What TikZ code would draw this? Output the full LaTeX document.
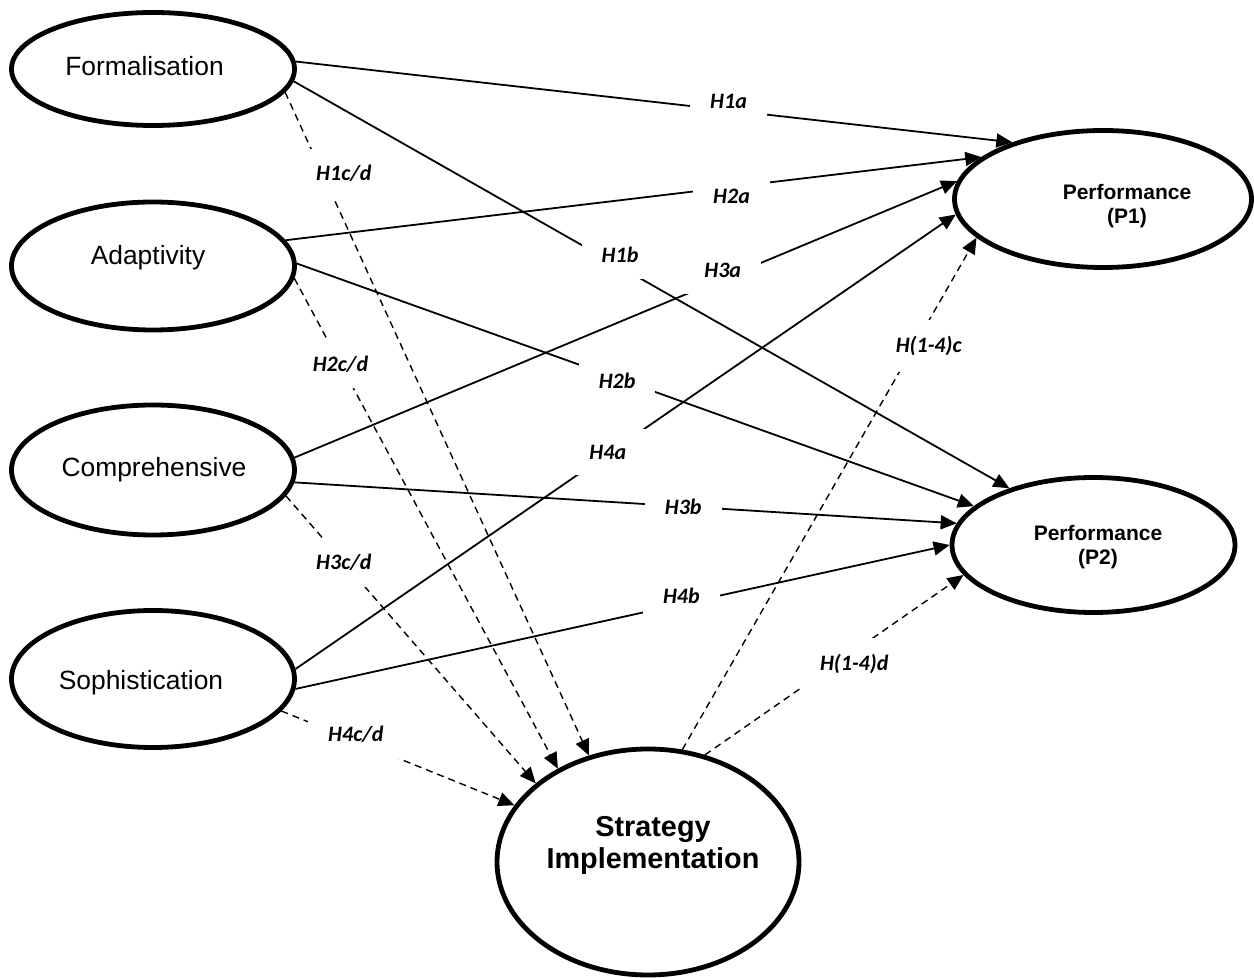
\documentclass[tikz,border=0pt]{standalone}
\usepackage{fontspec}
\setmainfont{Liberation Sans}
\newfontfamily\hypfont{Carlito}[BoldItalicFont={Carlito Bold Italic}]
\usetikzlibrary{arrows.meta,shapes.geometric}
\tikzset{
  sm diagram/.style={x=0.5pt, y=-0.5pt},
  sm construct/.style={ellipse, draw=black, fill=white, line width=2.4pt,
    inner sep=0pt, minimum width=141.5pt},
  sm factor text/.style={font=\fontsize{13.2}{15}\selectfont},
  sm outcome text/.style={align=center, font=\fontsize{10.5}{12}\selectfont\bfseries},
  sm core text/.style={align=center, font=\fontsize{14.4}{16}\selectfont\bfseries},
  sm path/.style={-{Triangle[length=8pt,width=7pt]}, draw=black, line width=0.9pt},
  sm mediated/.style={sm path, line width=0.7pt, dash pattern=on 3.5pt off 2.5pt},
  sm hyp/.style={fill=white, inner xsep=10pt, inner ysep=8pt,
    font=\hypfont\bfseries\itshape\fontsize{11}{13}\selectfont}
}
\begin{document}
\begin{tikzpicture}[sm diagram]
\path[use as bounding box, fill=white] (0,0) rectangle (1254,978);
% constructs
\node[sm construct, minimum height=56.5pt,
  label={[sm factor text, shift={(-4.25pt,1.25pt)}]center:Formalisation}] (form) at (153,69) {};
\node[sm construct, minimum height=64pt,
  label={[sm factor text, shift={(-2.5pt,4.25pt)}]center:Adaptivity}] (adapt) at (153,266) {};
\node[sm construct, minimum height=65pt,
  label={[sm factor text, shift={(0.5pt,0pt)}]center:Comprehensive}] (comp) at (153,470) {};
\node[sm construct, minimum height=68.5pt,
  label={[sm factor text, shift={(-6pt,-2pt)}]center:Sophistication}] (soph) at (153,679) {};
\node[sm construct, minimum width=148.5pt, minimum height=68.5pt,
  label={[sm outcome text, shift={(12pt,-3.75pt)}]center:Performance\\(P1)}] (perf1) at (1103,199) {};
\node[sm construct, minimum height=67.5pt,
  label={[sm outcome text, shift={(2.25pt,-1.25pt)}]center:Performance\\(P2)}] (perf2) at (1093.5,545) {};
\node[sm construct, minimum width=151pt, minimum height=113pt,
  label={[sm core text, shift={(2.5pt,8.5pt)}]center:Strategy\\Implementation}] (impl) at (648,862) {};
% direct effects
\foreach \src/\sa/\dst/\da/\p/\dx/\dy/\nm/\lab in {
  form/3/perf1/148.5/0.604/0/4.5/h1a/H1a,
  form/-5/perf2/146.6/0.449/2.5/4.5/h1b/H1b,
  adapt/11.8/perf1/161.6/0.641/0/-4.5/h2a/H2a,
  adapt/1.6/perf2/162.2/0.473/0/-1.5/h2b/H2b,
  comp/5.2/perf1/173.7/0.651/-1.5/3.5/h3a/H3a,
  comp/-5.1/perf2/171.7/0.587/0/0/h3b/H3b,
  soph/4.8/perf1/186.5/0.473/0/1/h4a/H4a,
  soph/-4/perf2/180.8/0.593/-1/4/h4b/H4b}
  \draw[sm path] (\src.\sa) -- node[sm hyp, pos=\p, xshift=\dx pt, yshift=\dy pt] (\nm) {\lab} (\dst.\da);
% effects through implementation
\foreach \src/\sa/\dst/\da/\p/\dx/\dy/\nm/\lab in {
  form/-10/impl/119.8/0.134/9/4/h1cd/{H1c/d},
  adapt/-5.7/impl/134.4/0.175/0/0/h2cd/{H2c/d},
  comp/-11.3/impl/145.7/0.232/0/0/h3cd/{H3c/d},
  soph/-14/impl/157.3/0.311/1/3/h4cd/{H4c/d},
  impl/73.8/perf1/197.8/0.8/5.5/-3/h14c/H(1-4)c,
  impl/62.6/perf2/193.7/0.554/3/-4.5/h14d/H(1-4)d}
  \draw[sm mediated] (\src.\sa) -- node[sm hyp, pos=\p, xshift=\dx pt, yshift=\dy pt] (\nm) {\lab} (\dst.\da);
\end{tikzpicture}
\end{document}
